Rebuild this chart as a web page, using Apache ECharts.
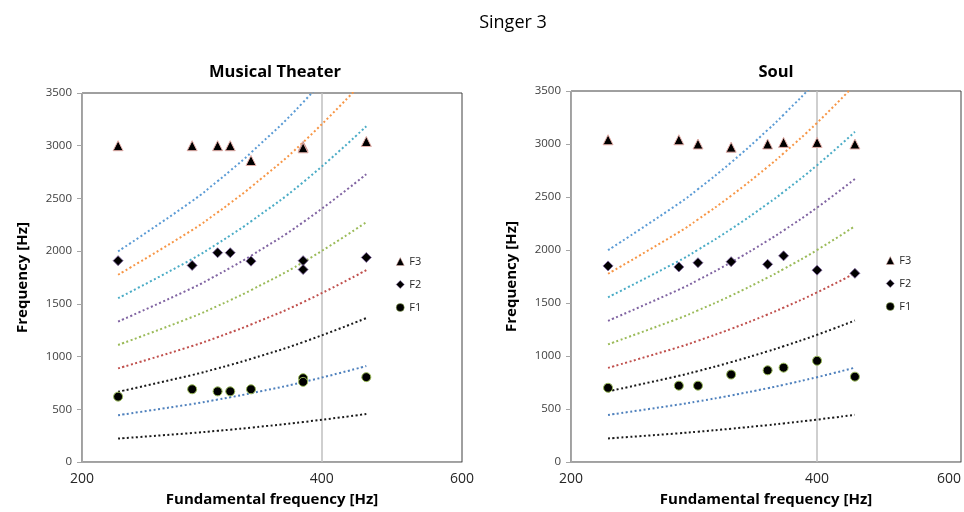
<!DOCTYPE html>
<html>
<head>
<meta charset="utf-8">
<script src="https://cdn.jsdelivr.net/npm/echarts@6/dist/echarts.min.js"></script>
<style>
html,body{margin:0;padding:0;background:#fff;}
#chart{width:964px;height:512px;}
</style>
</head>
<body>
<div id="chart"></div>
<script>
// ---------- data ----------
var xTicks = [200, 400, 600];
var harmonicNames = ['H1','H2','H3','H4','H5','H6','H7','H8','H9'];
var harmonicColors = ['#1a1a1a','#4F81BD','#1a1a1a','#C0504D','#9BBB59','#8064A2','#4BACC6','#F79646','#5B9BD5'];

// Musical Theater: harmonic lines (fundamental points along x)
var mtLineF0 = [222, 275, 296, 307, 326, 379, 455];
var mtH1 = [222, 275, 296, 307, 326, 379, 455];
var mtH2 = [444, 550, 592, 614, 652, 758, 910];
var mtH3 = [666, 825, 888, 921, 978, 1137, 1365];
var mtH4 = [888, 1100, 1184, 1228, 1304, 1516, 1820];
var mtH5 = [1110, 1375, 1480, 1535, 1630, 1895, 2275];
var mtH6 = [1332, 1650, 1776, 1842, 1956, 2274, 2730];
var mtH7 = [1554, 1925, 2072, 2149, 2282, 2653, 3185];
var mtH8 = [1776, 2200, 2368, 2456, 2608, 3032, 3640];
var mtH9 = [1998, 2475, 2664, 2763, 2934, 3411, 4095];

// Musical Theater: measured formants
var mtF0 = [222, 275, 296, 307, 326, 379, 379, 455];
var mtF1 = [620, 690, 670, 670, 690, 795, 760, 805];
var mtF2 = [1910, 1865, 1985, 1985, 1905, 1910, 1825, 1940];
var mtF3 = [3000, 3000, 3000, 3000, 2860, 2995, 2980, 3040];

// Soul: harmonic lines
var soLineF0 = [222, 271, 286, 314, 348, 364, 400, 445];
var soH1 = [222, 271, 286, 314, 348, 364, 400, 445];
var soH2 = [444, 542, 572, 628, 696, 728, 800, 890];
var soH3 = [666, 813, 858, 942, 1044, 1092, 1200, 1335];
var soH4 = [888, 1084, 1144, 1256, 1392, 1456, 1600, 1780];
var soH5 = [1110, 1355, 1430, 1570, 1740, 1820, 2000, 2225];
var soH6 = [1332, 1626, 1716, 1884, 2088, 2184, 2400, 2670];
var soH7 = [1554, 1897, 2002, 2198, 2436, 2548, 2800, 3115];
var soH8 = [1776, 2168, 2288, 2512, 2784, 2912, 3200, 3560];
var soH9 = [1998, 2439, 2574, 2826, 3132, 3276, 3600, 4005];

// Soul: measured formants
var soF0 = [222, 271, 286, 314, 348, 364, 400, 445];
var soF1 = [700, 720, 720, 825, 865, 890, 955, 805];
var soF2 = [1850, 1840, 1880, 1890, 1865, 1945, 1810, 1780];
var soF3 = [3040, 3040, 3000, 2970, 3000, 3015, 3015, 3000];

// ---------- build ----------
var FONT = '"Open Sans", "Noto Sans", sans-serif';
function pairs(xs, ys){ return xs.map(function(x,i){ return [x, ys[i]]; }); }

var mtH = [mtH1, mtH2, mtH3, mtH4, mtH5, mtH6, mtH7, mtH8, mtH9];
var soH = [soH1, soH2, soH3, soH4, soH5, soH6, soH7, soH8, soH9];

var series = [];
function addPanel(idx, lineF0, H, f0, f1, f2, f3){
  H.forEach(function(h, k){
    series.push({
      name: harmonicNames[k] + '_' + idx, type: 'line', xAxisIndex: idx, yAxisIndex: idx,
      data: pairs(lineF0, h), showSymbol: false, smooth: true, clip: true, silent: true,
      lineStyle: { type: [2, 2.5], width: 2, color: harmonicColors[k] }, z: 2
    });
  });
  series.push({
    name: 'F1', type: 'scatter', xAxisIndex: idx, yAxisIndex: idx, data: pairs(f0, f1),
    symbol: 'circle', symbolSize: 9,
    itemStyle: { color: '#000', borderColor: '#9BBB59', borderWidth: 1, opacity: 1 }, z: 5,
    markLine: { silent: true, symbol: 'none', label: { show: false },
      lineStyle: { color: '#BFBFBF', width: 1.5, type: 'solid' },
      data: [{ xAxis: xTicks[1] }], z: 1 }
  });
  series.push({
    name: 'F2', type: 'scatter', xAxisIndex: idx, yAxisIndex: idx, data: pairs(f0, f2),
    symbol: 'diamond', symbolSize: 10,
    itemStyle: { color: '#000', borderColor: '#8064A2', borderWidth: 0.8, opacity: 1 }, z: 5
  });
  series.push({
    name: 'F3', type: 'scatter', xAxisIndex: idx, yAxisIndex: idx, data: pairs(f0, f3),
    symbol: 'triangle', symbolSize: 10,
    itemStyle: { color: '#000', borderColor: '#E6B0AA', borderWidth: 1, opacity: 1 }, z: 5
  });
}
addPanel(0, mtLineF0, mtH, mtF0, mtF1, mtF2, mtF3);
addPanel(1, soLineF0, soH, soF0, soF1, soF2, soF3);

function xAxis(idx, alignMax){
  return {
    type: 'log', logBase: 10, gridIndex: idx, min: xTicks[0], max: xTicks[2],
    name: 'Fundamental frequency [Hz]', nameLocation: 'middle', nameGap: 30,
    nameTextStyle: { fontFamily: FONT, fontWeight: 'bold', fontSize: 15, color: '#000' },
    axisLine: { show: true, onZero: false, lineStyle: { color: '#A6A6A6', width: 1 } },
    axisTick: { show: false },
    splitLine: { show: false },
    axisLabel: { customValues: xTicks, fontFamily: FONT, fontSize: 14, color: '#262626', margin: 10,
      alignMaxLabel: alignMax ? 'right' : null, showMaxLabel: true, showMinLabel: true }
  };
}
function yAxis(idx){
  return {
    type: 'value', gridIndex: idx, min: 0, max: 3500, interval: 500,
    name: 'Frequency [Hz]', nameLocation: 'middle', nameGap: 52, nameRotate: 90,
    nameTextStyle: { fontFamily: FONT, fontWeight: 'bold', fontSize: 15, color: '#000' },
    axisLine: { show: true, lineStyle: { color: '#A6A6A6', width: 1 } },
    axisTick: { show: true, length: 5, lineStyle: { color: '#A6A6A6' } },
    splitLine: { show: false },
    axisLabel: { fontFamily: FONT, fontSize: 11.5, color: '#404040', margin: 10,
      formatter: function(v){ return String(v); } }
  };
}

var legendCommon = {
  orient: 'vertical', itemWidth: 8, itemHeight: 8, itemGap: 12,
  data: ['F3', 'F2', 'F1'], selectedMode: false,
  itemStyle: { borderWidth: 0.5, opacity: 1 },
  textStyle: { fontFamily: FONT, fontSize: 11, color: '#262626' }
};

var option = {
  backgroundColor: '#fff',
  animation: false,
  title: [
    { text: 'Singer 3', left: 508, top: 9, textAlign: 'center',
      textStyle: { fontFamily: FONT, fontWeight: 'normal', fontSize: 18, color: '#000' } },
    { text: 'Musical Theater', left: 270, top: 59, textAlign: 'center',
      textStyle: { fontFamily: FONT, fontWeight: 'bold', fontSize: 16.5, color: '#000' } },
    { text: 'Soul', left: 771, top: 59, textAlign: 'center',
      textStyle: { fontFamily: FONT, fontWeight: 'bold', fontSize: 16.5, color: '#000' } }
  ],
  legend: [
    Object.assign({ left: 391, top: 251 }, legendCommon),
    Object.assign({ left: 881, top: 250 }, legendCommon)
  ],
  grid: [
    { left: 82, top: 93, width: 380, height: 369, show: true, borderColor: '#404040', borderWidth: 1, backgroundColor: 'transparent' },
    { left: 571, top: 91, width: 395, height: 371, show: true, borderColor: '#404040', borderWidth: 1, backgroundColor: 'transparent' }
  ],
  xAxis: [xAxis(0, false), xAxis(1, true)],
  yAxis: [yAxis(0), yAxis(1)],
  series: series
};

var chart = echarts.init(document.getElementById('chart'), null, { renderer: 'canvas' });
chart.setOption(option);
</script>
</body>
</html>
